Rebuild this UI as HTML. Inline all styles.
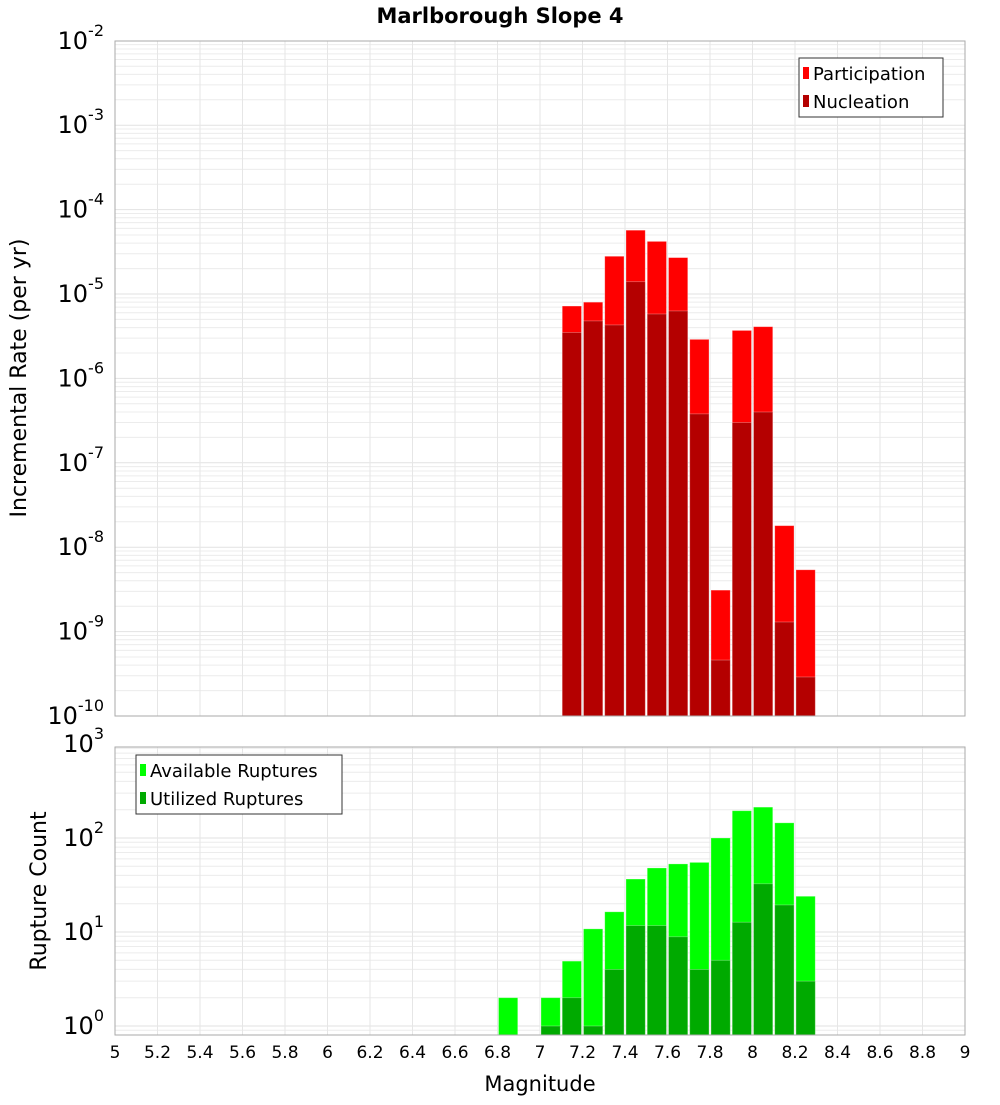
<!DOCTYPE html>
<html><head><meta charset="utf-8"><style>
body{margin:0;background:#fff;font-family:"Liberation Sans","DejaVu Sans",sans-serif}
svg text{font-family:"DejaVu Sans","Liberation Sans",sans-serif}
</style></head><body>
<svg id="c" width="1000" height="1100" xmlns="http://www.w3.org/2000/svg">
<text x="500" y="23" text-anchor="middle" font-size="21" font-weight="bold">Marlborough Slope 4</text>
<g id="g"></g>
</svg>
<script>
const bins=[7.15,7.25,7.35,7.45,7.55,7.65,7.75,7.85,7.95,8.05,8.15,8.25];
const participation=[7.2e-6,8e-6,2.8e-5,5.7e-5,4.2e-5,2.7e-5,2.9e-6,3.1e-9,3.7e-6,4.1e-6,1.8e-8,5.4e-9];
const nucleation=[3.5e-6,4.8e-6,4.3e-6,1.4e-5,5.8e-6,6.3e-6,3.8e-7,4.6e-10,3e-7,4e-7,1.3e-9,2.9e-10];
const countBins=[6.85,7.05,7.15,7.25,7.35,7.45,7.55,7.65,7.75,7.85,7.95,8.05,8.15,8.25];
const available=[2,2,4.9,10.8,16.4,36.6,48,53,55,100,195,213,145,24];
const utilized=[0,1,2,1,4,11.7,11.7,8.9,4,5,12.7,32.6,19.4,3];
const xTicks=[5,5.2,5.4,5.6,5.8,6,6.2,6.4,6.6,6.8,7,7.2,7.4,7.6,7.8,8,8.2,8.4,8.6,8.8,9];
const NS='http://www.w3.org/2000/svg',g=document.getElementById('g');
const L=115,R=965;
const X=m=>L+(m-5)/4*(R-L);
const Y1=v=>716-84.4*(Math.log10(v)+10);
const Y2=v=>1026-94*Math.log10(v);
function mk(t,a,txt){const e=document.createElementNS(NS,t);for(const k in a)e.setAttribute(k,a[k]);if(txt!==undefined)e.textContent=txt;g.appendChild(e);return e;}
function panel(top,bot,Y,lo,hi,name){
  mk('rect',{x:L,y:top,width:R-L,height:bot-top,fill:'#fff'});
  for(let d=lo;d<hi;d++)for(let k=1;k<10;k++){const y=Y(k*Math.pow(10,d));if(y<top||y>bot)continue;
    const e=mk('line',{x1:L,x2:R,y1:y,y2:y,stroke:k==1?'#e2e2e2':'#ececec','stroke-width':1});
    }
  xTicks.forEach(t=>{const e=mk('line',{x1:X(t),x2:X(t),y1:top,y2:bot,stroke:'#e6e6e6'});
    });
}
panel(41,716,Y1,-10,-2,'top');
panel(747,1035,Y2,-1,3,'bottom');
const hw=0.05*(R-L)/4;
function bars(bs,vals,Y,base,color,name){
  bs.forEach((b,i)=>{if(!(vals[i]>0))return;const y=Math.max(Y(vals[i]),0);
    const r=mk('rect',{x:X(b)-hw+1,y:y,width:2*hw-2,height:base-y,fill:color,stroke:'rgba(255,255,255,0.35)','stroke-width':0.8});
    });
}
bars(bins,participation,Y1,716,'#ff0000','participation');
bars(bins,nucleation,Y1,716,'#b40000','nucleation');
bars(countBins,available,Y2,1035,'#00ff00','available');
bars(countBins,utilized,Y2,1035,'#00aa00','utilized');
mk('rect',{x:L,y:41,width:R-L,height:675,fill:'none',stroke:'#aaa'});
mk('rect',{x:L,y:747,width:R-L,height:288,fill:'none',stroke:'#aaa'});
// y labels top
for(let d=-10;d<=-2;d++){const y=Y1(Math.pow(10,d));
  const t=mk('text',{x:104,y:y+8,'text-anchor':'end','font-size':24});
  
  t.innerHTML='10<tspan dy="-13" font-size="16">'+d+'</tspan>';}
for(let d=0;d<=3;d++){const y=Y2(Math.pow(10,d));
  const t=mk('text',{x:104,y:y+8,'text-anchor':'end','font-size':24});
  
  t.innerHTML='10<tspan dy="-13" font-size="16">'+d+'</tspan>';}
xTicks.forEach(t=>{const e=mk('text',{x:X(t),y:1058,'text-anchor':'middle','font-size':17},String(t));
  });
let e=mk('text',{x:540,y:1091,'text-anchor':'middle','font-size':21},'Magnitude');

e=mk('text',{x:0,y:0,'text-anchor':'middle','font-size':22,transform:'translate(26,378) rotate(-90)'},'Incremental Rate (per yr)');

e=mk('text',{x:0,y:0,'text-anchor':'middle','font-size':22,transform:'translate(46,891) rotate(-90)'},'Rupture Count');

function legend(x,y,w,items,name){
  const b=mk('rect',{x:x,y:y,width:w,height:59,fill:'#fff',stroke:'#333'});
  
  items.forEach((it,i)=>{const cy=y+15+i*28;
    const s=mk('rect',{x:x+4,y:cy-6,width:6,height:12,fill:it[1]});
    
    const t=mk('text',{x:x+14,y:cy+7,'font-size':18},it[0]);
    });
}
legend(799,58,144,[['Participation','#ff0000'],['Nucleation','#b40000']],'top-legend');
legend(136,755,206,[['Available Ruptures','#00ff00'],['Utilized Ruptures','#00aa00']],'bottom-legend');
</script>
</body></html>
